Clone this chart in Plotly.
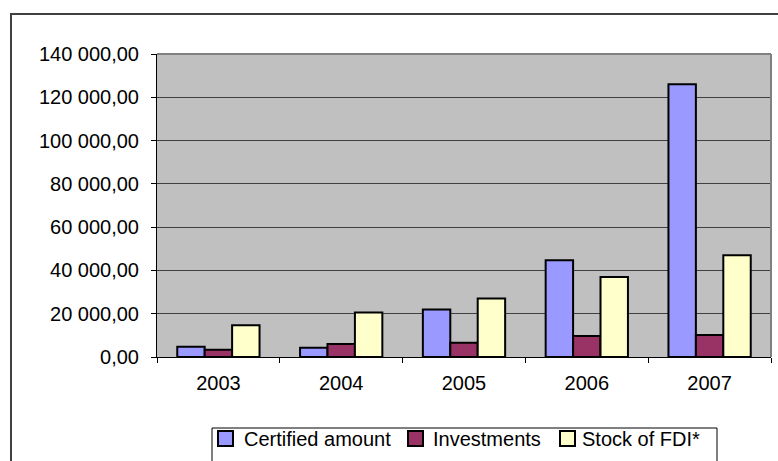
import plotly.graph_objects as go

years = ["2003", "2004", "2005", "2006", "2007"]
certified = [4700, 4300, 22000, 44700, 126000]
investments = [3300, 6000, 6600, 9700, 10200]
stock_fdi = [14700, 20600, 27000, 37000, 47000]

series_names = ["Certified amount", "Investments", "Stock of FDI*"]
series_colors = ["#9999FF", "#993366", "#FFFFCC"]
y_ticks = [0, 20000, 40000, 60000, 80000, 100000, 120000, 140000]

FONT = "Liberation Sans, Arial, sans-serif"
FS = 20

# plot area in pixels
L, R, T, B = 157, 771, 54, 357
W, H = 778, 461


def px_x(p):
    return (p - L) / (R - L)


def px_y(p):
    return (B - p) / (B - T)


fig = go.Figure()
for name, vals, col in zip(series_names, [certified, investments, stock_fdi], series_colors):
    fig.add_trace(go.Bar(
        x=years, y=vals, name=name,
        marker=dict(color=col, line=dict(color="black", width=2)),
    ))

fig.update_layout(
    width=W, height=H,
    margin=dict(l=L, r=W - R, t=T, b=H - B),
    paper_bgcolor="white",
    plot_bgcolor="#C0C0C0",
    separators=", ",
    barmode="group",
    bargap=0.33,
    bargroupgap=0,
    font=dict(family=FONT, size=FS, color="black"),
    showlegend=False,
    xaxis=dict(
        type="category",
        showline=True, linecolor="black", linewidth=1,
        ticks="outside", ticklen=5, tickcolor="black",
        tickson="boundaries",
        showgrid=False,
        ticklabelstandoff=8,
        tickfont=dict(size=FS),
    ),
    yaxis=dict(
        range=[0, 140000],
        tickvals=y_ticks,
        tickformat=",.2f",
        showline=True, linecolor="black", linewidth=1,
        ticks="outside", ticklen=5, tickcolor="black",
        showgrid=True, gridcolor="#404040", gridwidth=1,
        zeroline=False,
        ticklabelstandoff=8,
        tickfont=dict(size=FS),
    ),
)

# plot area top/right border (grey)
fig.add_shape(type="line", xref="paper", yref="paper", x0=0, x1=1, y0=1, y1=1,
              line=dict(color="#808080", width=2))
fig.add_shape(type="line", xref="paper", yref="paper", x0=1, x1=1, y0=0, y1=1,
              line=dict(color="#808080", width=2))

# outer chart frame (right and bottom edges fall outside the picture)
fig.add_shape(type="rect", xref="paper", yref="paper",
              x0=px_x(11), x1=px_x(790), y0=px_y(480), y1=px_y(14),
              line=dict(color="#404040", width=2), fillcolor="rgba(0,0,0,0)")

# legend box
fig.add_shape(type="rect", xref="paper", yref="paper",
              x0=px_x(212), x1=px_x(717), y0=px_y(480), y1=px_y(428),
              line=dict(color="black", width=1), fillcolor="white")

sq_x = [218, 408, 560]
txt_x = [242, 431, 580]
for name, col, sx, tx in zip(series_names, series_colors, sq_x, txt_x):
    fig.add_shape(type="rect", xref="paper", yref="paper",
                  x0=px_x(sx), x1=px_x(sx + 15), y0=px_y(446), y1=px_y(431),
                  line=dict(color="black", width=2), fillcolor=col)
    fig.add_annotation(text=name, xref="paper", yref="paper",
                       x=px_x(tx), y=px_y(439), xanchor="left", yanchor="middle",
                       showarrow=False, font=dict(family=FONT, size=FS, color="black"))

fig.write_html(
    "out.html",
    config={"displayModeBar": False},
    post_script="document.body.style.margin='0';document.body.style.overflow='hidden';",
)
